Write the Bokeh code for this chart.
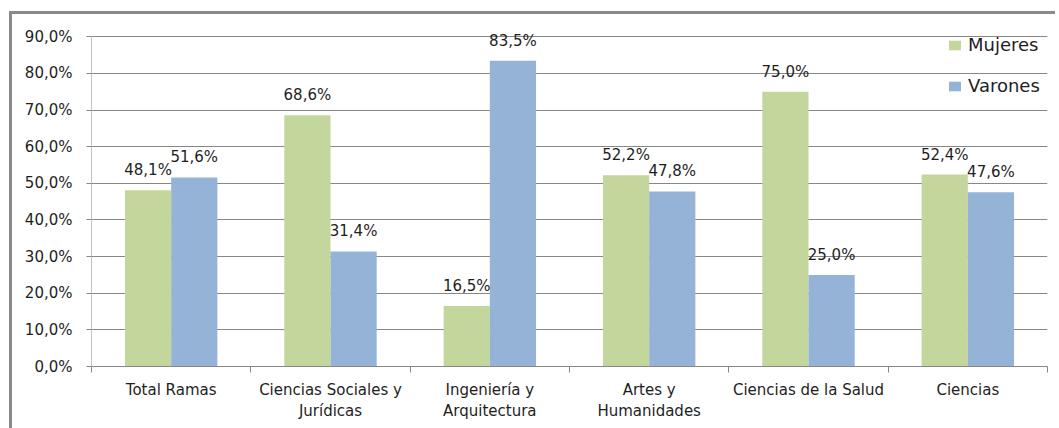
from bokeh.plotting import figure
from bokeh.models import ColumnDataSource, Range1d, FixedTicker, Legend, LegendItem, LabelSet
from bokeh.transform import dodge
from bokeh.core.properties import value
from bokeh.embed import file_html
from bokeh.resources import INLINE

categories = ["Total Ramas", "Ciencias Sociales y\nJurídicas", "Ingeniería y\nArquitectura",
              "Artes y\nHumanidades", "Ciencias de la Salud", "Ciencias"]
mujeres = [48.1, 68.6, 16.5, 52.2, 75.0, 52.4]
varones = [51.6, 31.4, 83.5, 47.8, 25.0, 47.6]
y_ticks = [0, 10, 20, 30, 40, 50, 60, 70, 80, 90]
y_tick_labels = ["0,0%", "10,0%", "20,0%", "30,0%", "40,0%", "50,0%", "60,0%", "70,0%", "80,0%", "90,0%"]
series_names = ["Mujeres", "Varones"]

GREEN = "#C3D69B"
BLUE = "#95B3D7"
GRID = "#878787"
TEXT = "#1e1e1e"
FONT = "DejaVu Sans"

def fmt(v):
    return ("%.1f%%" % v).replace(".", ",")

centers = [i + 0.5 for i in range(len(categories))]
src = ColumnDataSource(dict(
    x=centers, m=mujeres, v=varones,
    ml=[fmt(v) for v in mujeres], vl=[fmt(v) for v in varones],
))

p = figure(output_backend="svg", toolbar_location=None,
           frame_width=956, frame_height=337,
           x_range=Range1d(0, len(categories)), y_range=Range1d(0, 92),
           min_border_left=79, min_border_right=8, min_border_top=15, min_border_bottom=62)
p.outline_line_color = None
p.background_fill_color = "white"
p.border_fill_color = "white"
p.styles = {"border-left": "3px solid #8a8a8a", "border-top": "3px solid #8a8a8a",
            "margin-left": "9px", "margin-top": "11px"}

# value axis line (from 0 to the top tick)
p.segment(x0=[0], y0=[y_ticks[0]], x1=[0], y1=[y_ticks[-1]], line_color=GRID, line_width=1)

bw = 0.29
r1 = p.vbar(x=dodge("x", -bw / 2, range=p.x_range), top="m", width=bw, source=src,
            fill_color=GREEN, line_color=None)
r2 = p.vbar(x=dodge("x", bw / 2, range=p.x_range), top="v", width=bw, source=src,
            fill_color=BLUE, line_color=None)

for col, lab, off in (("m", "ml", -bw / 2), ("v", "vl", bw / 2)):
    ls = LabelSet(x=dodge("x", off, range=p.x_range), y=col, text=lab, source=src,
                  text_align="center", text_baseline="bottom", y_offset=11,
                  text_font=value(FONT), text_font_size="15px", text_color=TEXT)
    p.add_layout(ls)

# y axis
p.yaxis.ticker = FixedTicker(ticks=y_ticks)
p.yaxis.major_label_overrides = {t: l for t, l in zip(y_ticks, y_tick_labels)}
p.yaxis.major_tick_out = 5
p.yaxis.major_tick_in = 0
p.yaxis.minor_tick_line_color = None
p.yaxis.axis_line_color = None
p.yaxis.major_tick_line_color = GRID
p.yaxis.major_label_text_font = FONT
p.yaxis.major_label_text_font_size = "15px"
p.yaxis.major_label_text_color = TEXT
p.yaxis.major_label_standoff = 14

# x axis
p.xaxis.ticker = FixedTicker(ticks=centers, minor_ticks=list(range(len(categories) + 1)))
p.xaxis.major_label_overrides = {c: l for c, l in zip(centers, categories)}
p.xaxis.major_tick_line_color = None
p.xaxis.major_tick_out = 0
p.xaxis.major_tick_in = 0
p.xaxis.minor_tick_line_color = GRID
p.xaxis.minor_tick_out = 6
p.xaxis.minor_tick_in = 0
p.xaxis.axis_line_color = GRID
p.xaxis.major_label_text_font = FONT
p.xaxis.major_label_text_font_size = "15px"
p.xaxis.major_label_text_color = TEXT
p.xaxis.major_label_standoff = 8

p.xgrid.grid_line_color = None
p.ygrid.grid_line_color = GRID
p.ygrid.ticker = FixedTicker(ticks=y_ticks)

legend = Legend(items=[LegendItem(label=series_names[0], renderers=[r1]),
                       LegendItem(label=series_names[1], renderers=[r2])],
                location=(856, 270), orientation="vertical",
                glyph_width=15, glyph_height=12, label_standoff=6,
                label_height=20, spacing=20, padding=0, margin=0,
                border_line_color=None, background_fill_alpha=0,
                label_text_font=FONT, label_text_font_size="18px", label_text_color=TEXT)
p.add_layout(legend, "center")

open("out.html", "w").write(file_html(p, INLINE))
